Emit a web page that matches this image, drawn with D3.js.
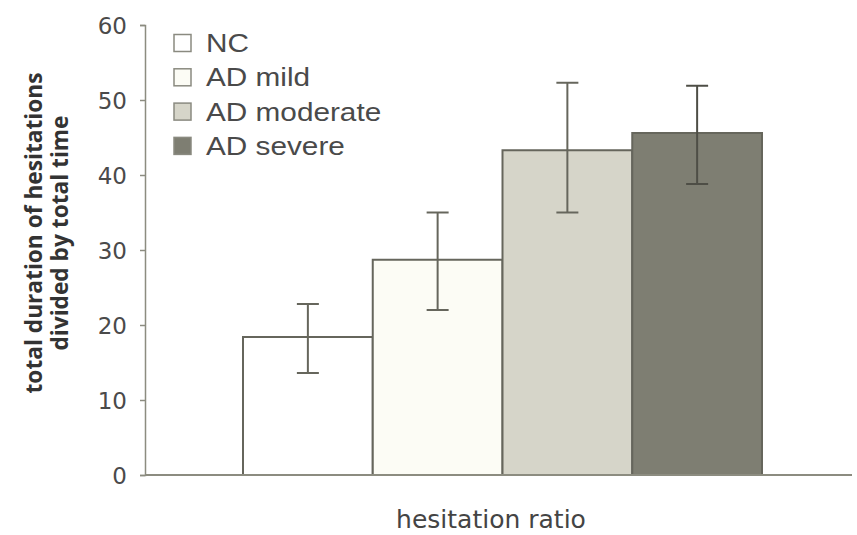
<!DOCTYPE html>
<html>
<head>
<meta charset="utf-8">
<script src="https://cdn.jsdelivr.net/npm/d3@7"></script>
<style>
  body { margin: 0; background: #fff; }
  svg { display: block; }
</style>
</head>
<body>
<svg id="chart" width="857" height="535"></svg>
<script>
// values
var groups = ["NC", "AD mild", "AD moderate", "AD severe"];
var means = [18.4, 28.7, 43.3, 45.6];
var errLow = [13.6, 22.0, 35.0, 38.8];
var errHigh = [22.8, 35.0, 52.3, 51.9];
var yTicks = [0, 10, 20, 30, 40, 50, 60];
var fills = ["#ffffff", "#fcfcf5", "#d6d5c9", "#7e7e72"];

var data = groups.map(function (g, i) {
  return {group: g, mean: means[i], lo: errLow[i], hi: errHigh[i], fill: fills[i]};
});

var svg = d3.select("#chart");
var ink = "#66665c";

var y = d3.scaleLinear()
  .domain([0, 60])
  .range([475, 25]);

var x = d3.scaleBand()
  .domain(groups)
  .range([243, 762])
  .padding(0);

// bars
svg.selectAll(".bar")
  .data(data)
  .enter().append("rect")
  .attr("class", "bar")
  .attr("x", function (d) { return x(d.group); })
  .attr("y", function (d) { return y(d.mean); })
  .attr("width", x.bandwidth())
  .attr("height", function (d) { return y(0) - y(d.mean); })
  .attr("fill", function (d) { return d.fill; })
  .attr("stroke", ink)
  .attr("stroke-width", 2);

// error bars
var eb = svg.selectAll(".err")
  .data(data)
  .enter().append("g")
  .attr("class", "err")
  .attr("stroke", function (d, i) { return i == 3 ? "#4e4e46" : ink; })
  .attr("stroke-width", 2);

eb.append("line")
  .attr("x1", function (d) { return x(d.group) + x.bandwidth() / 2; })
  .attr("x2", function (d) { return x(d.group) + x.bandwidth() / 2; })
  .attr("y1", function (d) { return y(d.lo); })
  .attr("y2", function (d) { return y(d.hi); });

eb.selectAll(".cap")
  .data(function (d) { return [d.lo, d.hi].map(function (v) { return {group: d.group, v: v}; }); })
  .enter().append("line")
  .attr("class", "cap")
  .attr("x1", function (d) { return x(d.group) + x.bandwidth() / 2 - 11; })
  .attr("x2", function (d) { return x(d.group) + x.bandwidth() / 2 + 11; })
  .attr("y1", function (d) { return y(d.v); })
  .attr("y2", function (d) { return y(d.v); });

// y axis
var yAxis = svg.append("g")
  .attr("transform", "translate(145,0)")
  .call(d3.axisLeft(y).tickValues(yTicks).tickSize(5).tickPadding(13));

yAxis.select(".domain").attr("stroke", "#8c8c80").attr("stroke-width", 1.5);
yAxis.selectAll(".tick line").attr("stroke", "#8c8c80").attr("stroke-width", 1.5);
yAxis.selectAll(".tick text")
  .attr("fill", "#4a4a4a")
  .style("font-family", "'DejaVu Sans', sans-serif")
  .style("font-size", "23px")
  .attr("dy", "0.36em");

// x axis baseline
svg.append("line")
  .attr("x1", 145)
  .attr("x2", 852)
  .attr("y1", y(0))
  .attr("y2", y(0))
  .attr("stroke", "#8c8c80")
  .attr("stroke-width", 2);

// legend
var leg = svg.selectAll(".leg")
  .data(data)
  .enter().append("g")
  .attr("class", "leg")
  .attr("transform", function (d, i) { return "translate(174," + (43 + i * 34.3) + ")"; });

leg.append("rect")
  .attr("x", 0)
  .attr("y", -8.5)
  .attr("width", 17)
  .attr("height", 17)
  .attr("fill", function (d) { return d.fill; })
  .attr("stroke", "#8a8a80")
  .attr("stroke-width", 1.5);

leg.append("text")
  .attr("transform", "translate(32,9) scale(1.19,1)")
  .attr("fill", "#4a4a4a")
  .style("font-family", "'Liberation Sans', Arial, sans-serif")
  .style("font-size", "25px")
  .text(function (d) { return d.group; });

// axis titles
var yTitle = svg.append("text")
  .attr("transform", "translate(42,233) rotate(-90)")
  .attr("text-anchor", "middle")
  .attr("fill", "#333")
  .style("font-family", "'Open Sans', sans-serif")
  .style("font-weight", "bold")
  .style("font-size", "22.7px");

yTitle.append("tspan").attr("x", 0).attr("y", 0).text("total duration of hesitations");
yTitle.append("tspan").attr("x", 0).attr("y", 26).text("divided by total time");

svg.append("text")
  .attr("x", 491)
  .attr("y", 528)
  .attr("text-anchor", "middle")
  .attr("fill", "#444")
  .style("font-family", "'DejaVu Sans', sans-serif")
  .style("font-size", "25px")
  .text("hesitation ratio");
</script>
</body>
</html>
